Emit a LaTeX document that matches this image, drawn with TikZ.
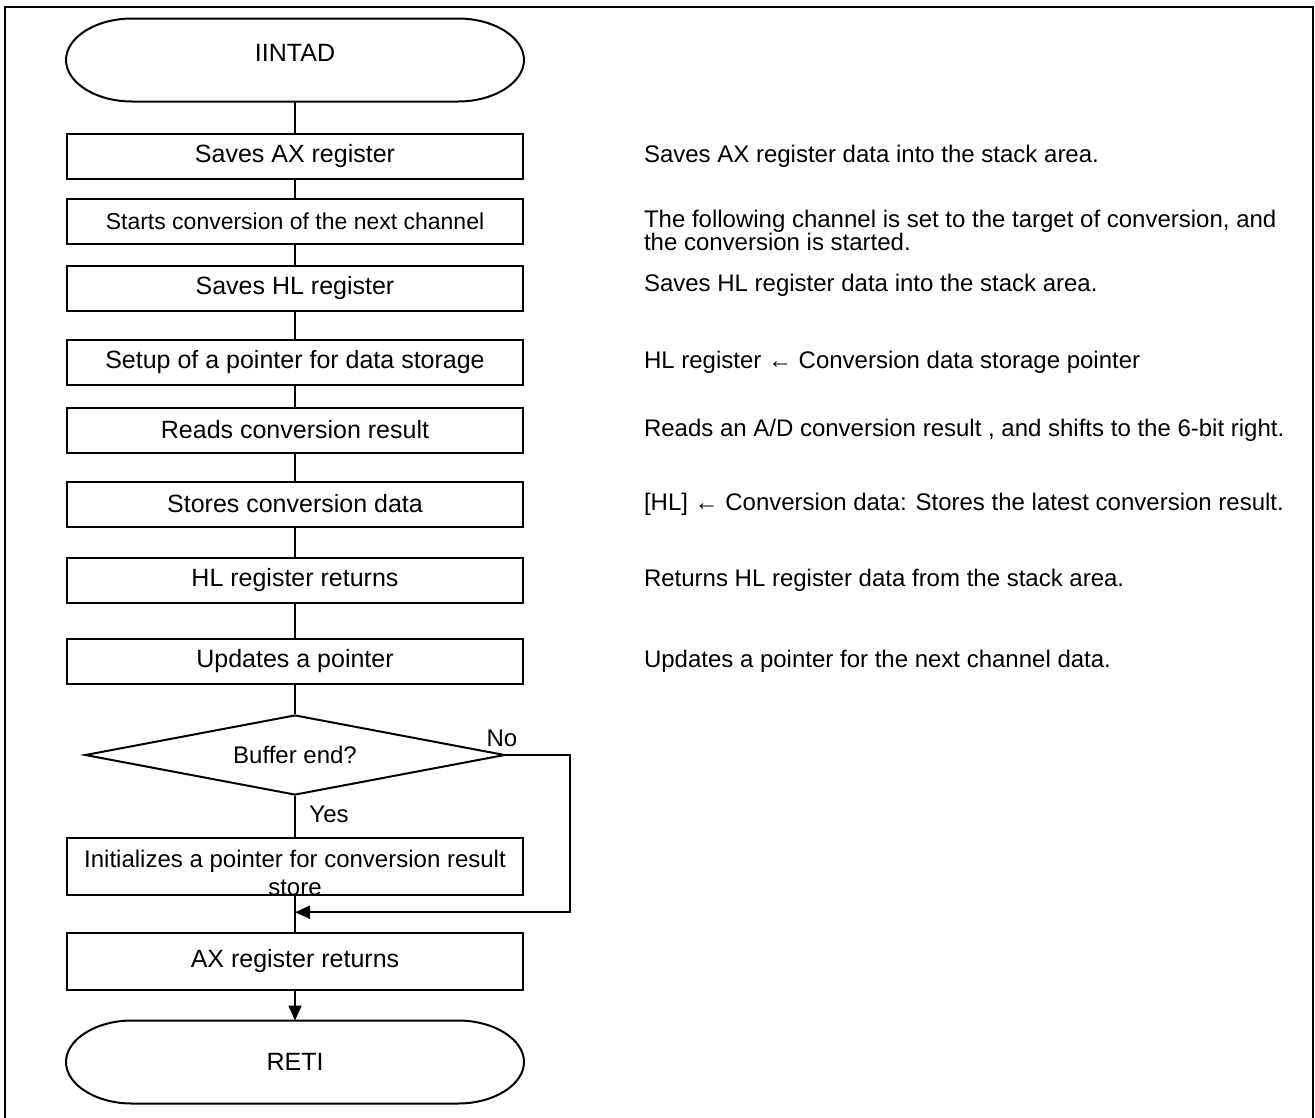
\documentclass[tikz,border=0pt]{standalone}
\usepackage{fontspec}
\setmainfont{Liberation Sans}
\usetikzlibrary{calc,shapes.geometric,arrows.meta}

\begin{document}
\begin{tikzpicture}[x=1pt,y=-1pt,line width=2pt]
    \tikzstyle{process node}=[rectangle,draw,minimum width=456pt,minimum height=45pt,inner sep=0pt,font=\fontsize{25}{30}\selectfont]
    \tikzstyle{small text}=[font=\fontsize{23}{27}\selectfont]
    \tikzstyle{terminal node}=[minimum width=456pt,minimum height=81pt,inner sep=0pt,font=\fontsize{25}{30}\selectfont]
    \tikzstyle{decision node}=[diamond,draw,aspect=5.25,minimum width=420pt,minimum height=80pt,inner sep=0pt,font=\fontsize{24}{28}\selectfont]
    \tikzstyle{note node}=[anchor=west,inner sep=0pt,align=left,font=\fontsize{24}{23}\selectfont]
    \tikzstyle{branch label}=[inner sep=0pt,font=\fontsize{24}{28}\selectfont]
    \tikzstyle{flow arrow}=[-{Triangle[length=15pt,width=13pt]}]

    \useasboundingbox (0,0) rectangle (1315,1117);
% outer frame
\draw[line width=2.5pt] (5,1125) |- (1313,7) -- (1313,1125);

    \node(0)[terminal node,text height=18pt,text depth=15pt] at (295,60) {IINTAD};
    \node(1)[process node] at (295,156.5) {Saves AX register};
    \node(2)[process node,small text] at (295,221) {Starts conversion of the next channel};
    \node(3)[process node] at (295,288.5) {Saves HL register};
    \node(4)[process node] at (295,362.5) {Setup of a pointer for data storage};
    \node(5)[process node] at (295,430) {Reads conversion result};
    \node(6)[process node] at (295,504) {Stores conversion data};
    \node(7)[process node] at (295,580.5) {HL register returns};
    \node(8)[process node] at (295,661.5) {Updates a pointer};
    \node(9)[decision node] at (295,755) {Buffer end?};
    \node(10)[process node,minimum height=57pt] at (295,866.5) {};
    \node(10t)[anchor=north,inner sep=0pt,align=center,font=\fontsize{24}{28}\selectfont] at ($(10.north)+(0,12)$) {Initializes a pointer for conversion result\\store};
    \node(11)[process node,minimum height=57pt] at (295,961.5) {AX register returns};
    \node(12)[terminal node] at (295,1062) {RETI};

% rounded ends of start and end
\foreach \t in {0,12}{
    \draw ($(\t.north west)+(66,0)$) -- ($(\t.north east)+(-66,0)$)
        .. controls +(36.5,0) and +(0,-22.4) .. (\t.east)
        .. controls +(0,22.4) and +(36.5,0) .. ($(\t.south east)+(-66,0)$)
        -- ($(\t.south west)+(66,0)$)
        .. controls +(-36.5,0) and +(0,22.4) .. (\t.west)
        .. controls +(0,-22.4) and +(-36.5,0) .. ($(\t.north west)+(66,0)$) -- cycle;
}

% main flow
\foreach \a/\b in {0/1,1/2,2/3,3/4,4/5,5/6,6/7,7/8,8/9,9/10,10/11}
    \draw (\a.south) -- (\b.north);
\draw[flow arrow] (11) -- (12);

% no branch
\coordinate (turn) at ($(9.east)+(64,0)$);
\coordinate (join) at ($(10.south)!.45!(11.north)$);
\draw[flow arrow] (9.east) -- (turn) |- (join);
\node(no)[branch label] at ($(9.east)+(-4,-17)$) {No};
\node(yes)[branch label] at ($(9.south)+(34,18)$) {Yes};

% comments on the right
\node(n1)[note node] at ($(1.east)+(119,0)$) {Saves AX register data into the stack area.};
\node(n2)[note node,anchor=north west] at ($(2.east)+(119,-11.5)$) {The following channel is set to the target of conversion, and\\the conversion is started.};
\node(n3)[note node] at ($(3.east)+(119,-3)$) {Saves HL register data into the stack area.};
\node(n4)[note node] at ($(4.east)+(119,0)$) {HL register ← Conversion data storage pointer};
\node(n5)[note node] at ($(5.east)+(119,0)$) {Reads an A/D conversion result , and shifts to the 6-bit right.};
\node(n6)[note node] at ($(6.east)+(119,0)$) {[HL] ← Conversion data: Stores the latest conversion result.};
\node(n7)[note node] at ($(7.east)+(119,0)$) {Returns HL register data from the stack area.};
\node(n8)[note node] at ($(8.east)+(119,0)$) {Updates a pointer for the next channel data.};
\end{tikzpicture}
\end{document}
